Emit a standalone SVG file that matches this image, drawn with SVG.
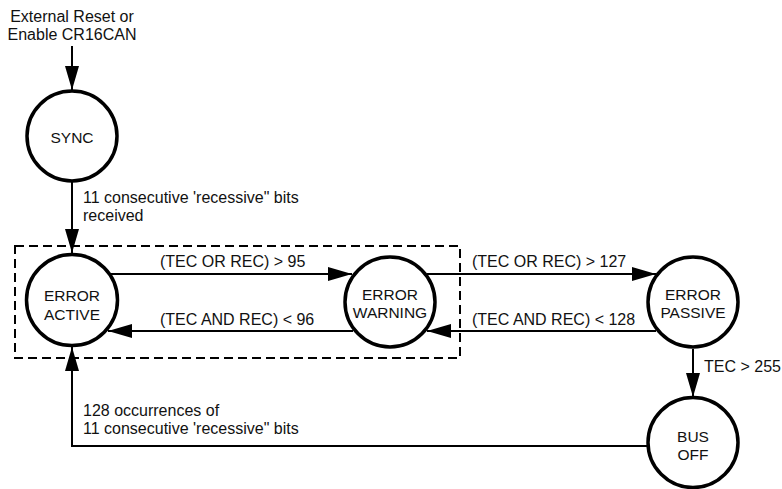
<svg xmlns="http://www.w3.org/2000/svg" width="782" height="489" viewBox="0 0 782 489">
<style>
  .node circle { fill: #fff; stroke: #000; stroke-width: 3.5; }
  .node text { font-family: "Liberation Sans", Arial, sans-serif; font-size: 15.5px; text-anchor: middle; fill: #111; }
  .lbl { font-family: "Liberation Sans", Arial, sans-serif; font-size: 16px; fill: #111; }
  .conn { fill: none; stroke: #000; stroke-width: 2; }
  .frame { fill: none; stroke: #000; stroke-width: 2; stroke-dasharray: 9 5; }
</style>
<defs>
  <marker id="ah" markerUnits="userSpaceOnUse" markerWidth="24" markerHeight="14" refX="24" refY="7" orient="auto">
    <path d="M0,0 L24,7 L0,14 z" fill="#000"/>
  </marker>
</defs>
<rect width="782" height="489" fill="#fff"/>
<rect class="frame" x="15" y="246" width="445" height="112"/>
<g id="connectors">
  <line class="conn" x1="72" y1="46" x2="72" y2="90" marker-end="url(#ah)"/>
  <line class="conn" x1="72" y1="182" x2="72" y2="253" marker-end="url(#ah)"/>
  <line class="conn" x1="109" y1="274" x2="352" y2="274" marker-end="url(#ah)"/>
  <line class="conn" x1="353" y1="331" x2="108" y2="331" marker-end="url(#ah)"/>
  <line class="conn" x1="427" y1="274" x2="656" y2="274" marker-end="url(#ah)"/>
  <line class="conn" x1="656" y1="331" x2="427" y2="331" marker-end="url(#ah)"/>
  <line class="conn" x1="693" y1="349" x2="693" y2="397" marker-end="url(#ah)"/>
  <polyline class="conn" points="647,446 72,446 72,347" marker-end="url(#ah)"/>
  <text class="lbl" x="83" y="203">11 consecutive 'recessive" bits</text>
  <text class="lbl" x="83" y="221">received</text>
  <text class="lbl" x="160" y="267">(TEC OR REC) &gt; 95</text>
  <text class="lbl" x="160" y="325">(TEC AND REC) &lt; 96</text>
  <text class="lbl" x="472" y="267">(TEC OR REC) &gt; 127</text>
  <text class="lbl" x="472" y="325">(TEC AND REC) &lt; 128</text>
  <text class="lbl" x="704" y="372">TEC &gt; 255</text>
  <text class="lbl" x="83" y="416">128 occurrences of</text>
  <text class="lbl" x="83" y="434">11 consecutive 'recessive" bits</text>
  <text class="lbl" x="72" y="22" text-anchor="middle">External Reset or</text>
  <text class="lbl" x="72" y="40" text-anchor="middle">Enable CR16CAN</text>
</g>
<g id="sync" class="node">
  <circle cx="72" cy="136" r="45"/>
  <text x="72" y="143">SYNC</text>
</g>
<g id="error-active" class="node">
  <circle cx="72" cy="300" r="45.5"/>
  <text x="72" y="301">ERROR</text>
  <text x="72" y="320">ACTIVE</text>
</g>
<g id="error-warning" class="node">
  <circle cx="390" cy="302" r="45"/>
  <text x="390" y="300">ERROR</text>
  <text x="390" y="318">WARNING</text>
</g>
<g id="error-passive" class="node">
  <circle cx="693" cy="302" r="45"/>
  <text x="693" y="300">ERROR</text>
  <text x="693" y="318">PASSIVE</text>
</g>
<g id="bus-off" class="node">
  <circle cx="693" cy="442.5" r="45"/>
  <text x="693" y="442">BUS</text>
  <text x="693" y="460">OFF</text>
</g>
</svg>
